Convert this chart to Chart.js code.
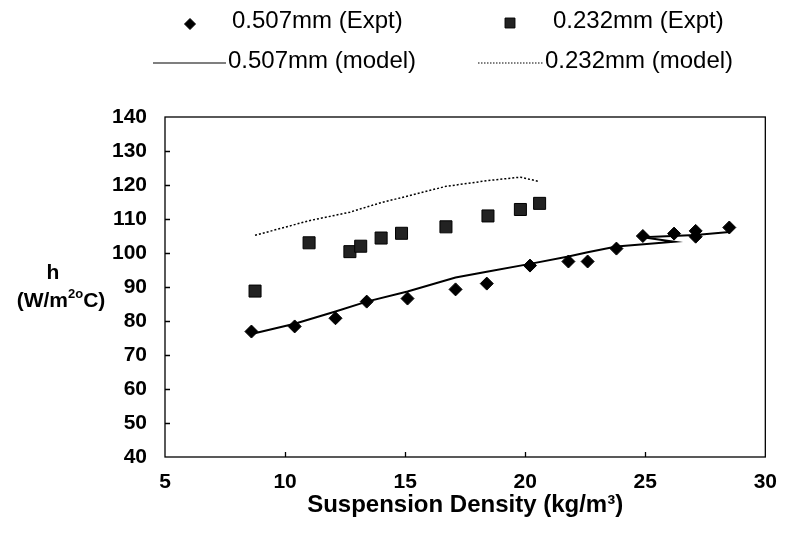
<!DOCTYPE html>
<html>
<head>
<meta charset="utf-8">
<script src="https://cdn.jsdelivr.net/npm/chart.js@4/dist/chart.umd.min.js"></script>
<style>
html, body { margin: 0; padding: 0; background: #fff; }
</style>
</head>
<body>
<canvas id="hChart" width="790" height="542"></canvas>
<script>
// experimental points, 0.507 mm particles
var expt507X = [8.6, 10.4, 12.1, 13.4, 15.1, 17.1, 18.4, 20.2, 21.8, 22.6, 23.8, 24.9, 26.2, 27.1, 27.1, 28.5];
var expt507Y = [76.9, 78.4, 80.8, 85.7, 86.6, 89.3, 91.0, 96.3, 97.5, 97.5, 101.3, 105.0, 105.7, 106.5, 104.8, 107.5];
// model, 0.507 mm (kept in the original point order, hence the little kink near 25)
var model507X = [8.6, 10.4, 12.1, 13.4, 15.1, 17.1, 18.4, 20.2, 21.8, 22.6, 23.8, 26.2, 24.9, 27.1, 28.5];
var model507Y = [76.2, 79.2, 82.8, 85.7, 88.7, 92.8, 94.5, 96.8, 99.0, 100.2, 101.9, 103.3, 104.6, 105.3, 106.2];
// experimental points, 0.232 mm particles
var expt232X = [8.75, 11.0, 12.7, 13.15, 14.0, 14.85, 16.7, 18.45, 19.8, 20.6];
var expt232Y = [88.8, 103.0, 100.4, 102.0, 104.4, 105.8, 107.7, 110.9, 112.8, 114.6];
// model, 0.232 mm
var model232X = [8.75, 11.0, 12.7, 13.15, 14.0, 14.85, 16.7, 18.45, 19.8, 20.6];
var model232Y = [105.2, 109.5, 112.0, 113.0, 114.8, 116.3, 119.6, 121.3, 122.3, 121.0];

var xTicks = [5, 10, 15, 20, 25, 30];
var yTicks = [40, 50, 60, 70, 80, 90, 100, 110, 120, 130, 140];

var seriesNames = ['0.507mm (Expt)', '0.232mm (Expt)', '0.507mm (model)', '0.232mm (model)'];

function toPoints(xs, ys) {
    return xs.map(function(x, i) { return { x: x, y: ys[i] }; });
}

var FONT = "'Liberation Sans', Arial, sans-serif";

// legend laid out in two rows like the original figure
var legendPlugin = {
    id: 'boxLegend',
    afterDraw: function(chart) {
        var ctx = chart.ctx;
        ctx.save();
        ctx.font = '24px ' + FONT;
        ctx.fillStyle = '#000';
        ctx.strokeStyle = '#000';
        ctx.textBaseline = 'middle';
        ctx.textAlign = 'left';

        // row 1: markers
        Chart.helpers.drawPoint(ctx, { pointStyle: 'rectRot', radius: 5.5, borderWidth: 1 }, 190, 24);
        ctx.fillText(seriesNames[0], 232, 21);
        ctx.fillStyle = '#222';
        Chart.helpers.drawPoint(ctx, { pointStyle: 'rect', radius: 7, borderWidth: 1 }, 510, 23);
        ctx.fillStyle = '#000';
        ctx.fillText(seriesNames[1], 553, 21);

        // row 2: lines
        ctx.lineWidth = 1.2;
        ctx.beginPath();
        ctx.moveTo(153, 63); ctx.lineTo(226, 63);
        ctx.stroke();
        ctx.fillText(seriesNames[2], 228, 61);

        ctx.setLineDash([1.5, 1.5]);
        ctx.beginPath();
        ctx.moveTo(478, 63); ctx.lineTo(543, 63);
        ctx.stroke();
        ctx.setLineDash([]);
        ctx.fillText(seriesNames[3], 545, 61);
        ctx.restore();
    }
};

// frame, inward ticks and the y-axis caption
var framePlugin = {
    id: 'frame',
    afterDatasetsDraw: function(chart) {
        var ctx = chart.ctx;
        var a = chart.chartArea;
        var xs = chart.scales.x, ys = chart.scales.y;
        ctx.save();
        ctx.strokeStyle = '#000';
        ctx.lineWidth = 1.3;
        ctx.strokeRect(a.left, a.top, a.right - a.left, a.bottom - a.top);
        ctx.beginPath();
        yTicks.slice(1, -1).forEach(function(v) {
            var py = Math.round(ys.getPixelForValue(v)) + 0.5;
            ctx.moveTo(a.left, py); ctx.lineTo(a.left + 5, py);
        });
        xTicks.slice(1, -1).forEach(function(v) {
            var px = Math.round(xs.getPixelForValue(v)) + 0.5;
            ctx.moveTo(px, a.bottom); ctx.lineTo(px, a.bottom - 5);
        });
        ctx.stroke();

        ctx.fillStyle = '#000';
        var main = 'bold 21px ' + FONT;
        ctx.font = main;
        ctx.textBaseline = 'middle';
        ctx.textAlign = 'center';
        ctx.fillText('h', 53, 273);

        // (W/m2oC) with superscripts
        var sup = 'bold 13px ' + FONT;
        var parts = [['(W/m', main, 0], ['2', sup, -7], ['o', sup, -7], ['C)', main, 0]];
        var total = 0;
        parts.forEach(function(p) { ctx.font = p[1]; total += ctx.measureText(p[0]).width; });
        var x = 61 - total / 2;
        ctx.textAlign = 'left';
        parts.forEach(function(p) {
            ctx.font = p[1];
            ctx.fillText(p[0], x, 301 + p[2]);
            x += ctx.measureText(p[0]).width;
        });
        ctx.restore();
    }
};

var ctxH = document.getElementById('hChart');
var hChart = new Chart(ctxH, {
    type: 'scatter',
    data: {
        datasets: [
            {
                label: seriesNames[0],
                data: toPoints(expt507X, expt507Y),
                pointStyle: 'rectRot',
                pointRadius: 6.5,
                backgroundColor: '#000',
                borderColor: '#000',
                borderWidth: 1,
                showLine: false,
                order: 1
            },
            {
                label: seriesNames[1],
                data: toPoints(expt232X, expt232Y),
                pointStyle: 'rect',
                pointRadius: 8.5,
                backgroundColor: '#222',
                borderColor: '#000',
                borderWidth: 1,
                showLine: false,
                order: 1
            },
            {
                label: seriesNames[2],
                data: toPoints(model507X, model507Y),
                showLine: true,
                borderColor: '#000',
                borderWidth: 2,
                pointRadius: 0,
                tension: 0,
                order: 2
            },
            {
                label: seriesNames[3],
                data: toPoints(model232X, model232Y),
                showLine: true,
                borderColor: '#000',
                borderWidth: 1.5,
                borderDash: [2, 2],
                pointRadius: 0,
                tension: 0,
                order: 2
            }
        ]
    },
    options: {
        responsive: false,
        animation: false,
        layout: { padding: { top: 117, right: 13, left: 0, bottom: 0 } },
        plugins: {
            legend: { display: false },
            tooltip: { enabled: false }
        },
        scales: {
            x: {
                type: 'linear',
                min: 5,
                max: 30,
                afterBuildTicks: function(scale) {
                    scale.ticks = xTicks.map(function(v) { return { value: v }; });
                },
                afterFit: function(scale) { scale.height = 85; },
                grid: { display: false, drawTicks: false },
                border: { display: false },
                ticks: {
                    padding: 13,
                    color: '#000',
                    font: { family: FONT, size: 21, weight: 'bold' }
                },
                title: {
                    display: true,
                    text: 'Suspension Density (kg/m³)',
                    color: '#000',
                    font: { family: FONT, size: 24, weight: 'bold' },
                    padding: { top: 0, bottom: 22 }
                }
            },
            y: {
                min: 40,
                max: 140,
                afterBuildTicks: function(scale) {
                    scale.ticks = yTicks.map(function(v) { return { value: v }; });
                },
                afterFit: function(scale) { scale.width = 165; },
                grid: { display: false, drawTicks: false },
                border: { display: false },
                ticks: {
                    padding: 18,
                    color: '#000',
                    font: { family: FONT, size: 21, weight: 'bold' }
                }
            }
        }
    },
    plugins: [legendPlugin, framePlugin]
});
</script>
</body>
</html>
